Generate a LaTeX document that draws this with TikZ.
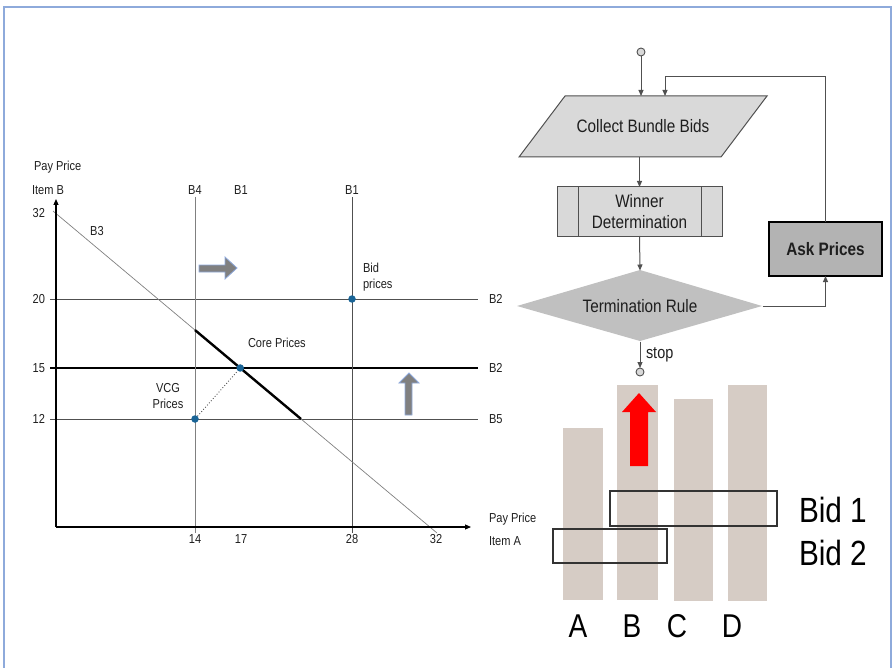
\documentclass[tikz,border=0pt]{standalone}
\usepackage{fontspec}
\setmainfont[FakeStretch=0.85]{Liberation Sans}
\usetikzlibrary{arrows.meta}

\definecolor{frameblue}{RGB}{142,170,219}
\definecolor{dotblue}{RGB}{25,100,150}
\definecolor{linegray}{RGB}{80,80,80}
\definecolor{boxgray}{RGB}{217,217,217}
\definecolor{diagray}{RGB}{192,192,192}
\definecolor{askgray}{RGB}{179,179,179}
\definecolor{bartan}{RGB}{214,204,197}
\definecolor{arrowgray}{RGB}{128,128,128}
\definecolor{arrowedge}{RGB}{143,170,220}
\definecolor{textdark}{RGB}{30,30,30}

\newcommand\chartfont{\fontsize{13}{16}\selectfont}
\newcommand\flowfont{\fontsize{18}{21}\selectfont}
\newcommand\bigfont{\fontsize{35}{40}\selectfont}
\newcommand\letterfont{\fontsize{33}{36}\selectfont}

\tikzset{
  every node/.style={inner sep=0pt, outer sep=0pt, text=textdark},
  lbl/.style={font=\chartfont},
  gridline/.style={draw=linegray, line width=0.9pt},
  axisline/.style={draw=black, line width=1.1pt, -{Triangle[length=6pt,width=5pt]}},
  pricedot/.style={circle, fill=dotblue, minimum size=7.5pt},
  hintarrow/.style={fill=arrowgray, draw=arrowedge, line width=0.8pt},
  flow/.style={draw=linegray, line width=1pt, -{Triangle[length=6pt,width=5pt]}},
  terminal/.style={circle, draw=linegray, fill=boxgray, line width=0.9pt, minimum size=8pt},
  bar/.style={fill=bartan},
  bidbox/.style={draw=black!80, line width=1.3pt},
}

\begin{document}
\begin{tikzpicture}[x=1pt,y=-1pt]
\useasboundingbox (0,0) rectangle (893,668);

% outer frame, open at the bottom
\draw[frameblue, line width=2pt] (4,668) -- (4,7) -- (891,7) -- (891,668);

% ---------------- price chart ----------------
\coordinate (h20a) at (50,299);  \coordinate (h20b) at (478,299);
\coordinate (h15a) at (50,368);  \coordinate (h15b) at (478,368);
\coordinate (h12a) at (50,419);  \coordinate (h12b) at (478,419);
\coordinate (v14a) at (195,197); \coordinate (v14b) at (195,533);
\coordinate (v28a) at (352,197); \coordinate (v28b) at (352,533);
\coordinate (d1) at (53,211);    \coordinate (d2) at (437,533);

\draw[gridline] (h20a) -- (h20b);
\draw[draw=black, line width=1.4pt] (h15a) -- (h15b);
\draw[gridline] (h12a) -- (h12b);
\draw[draw=gray, line width=1pt] (v14a) -- (v14b);
\draw[gridline] (v28a) -- (v28b);
\draw[draw=gray, line width=0.7pt] (d1) -- (d2);

% core segment of B3
\draw[black, line width=2.4pt]
  (intersection of d1--d2 and v14a--v14b) -- (intersection of d1--d2 and h12a--h12b);

% axes
\coordinate (origin) at (56,527);
\draw[axisline] (origin) -- (56,199);
\draw[axisline] (origin) -- (471,527);

% price points
\node[pricedot] (vcg) at (195,419) {};
\node[pricedot] (core) at (intersection of d1--d2 and h15a--h15b) {};
\node[pricedot] (bid) at (352,299) {};
\draw[linegray, line width=0.9pt, dotted] (vcg) -- (core);

% direction hints
\filldraw[hintarrow] (199,265) -- (225,265) -- (225,257) -- (237,268)
  -- (225,279) -- (225,272) -- (199,272) -- cycle;
\filldraw[hintarrow] (405,415) -- (405,383) -- (399,383) -- (409,373)
  -- (419,383) -- (412,383) -- (412,415) -- cycle;

% chart labels
\node[lbl, anchor=west] (ylab1) at (34,167) {Pay Price};
\node[lbl, anchor=west] (ylab2) at (32,190) {Item B};
\node[lbl] (tB4) at (195,190) {B4};
\node[lbl] (tB1a) at (241,190) {B1};
\node[lbl] (tB1b) at (352,190) {B1};
\node[lbl, anchor=east] (y32) at (45,213) {32};
\node[lbl, anchor=east] (y20) at (45,299) {20};
\node[lbl, anchor=east] (y15) at (45,368) {15};
\node[lbl, anchor=east] (y12) at (45,419) {12};
\node[lbl] (tB3) at (97,231) {B3};
\node[lbl, anchor=west, align=left] (bidlbl) at (363,277) {Bid\\prices};
\node[lbl, anchor=west] (corelbl) at (248,343) {Core Prices};
\node[lbl, align=center] (vcglbl) at (168,396) {VCG\\Prices};
\node[lbl, anchor=west] (rB2a) at (489,299) {B2};
\node[lbl, anchor=west] (rB2b) at (489,368) {B2};
\node[lbl, anchor=west] (rB5) at (489,419) {B5};
\node[lbl] (x14) at (195,539) {14};
\node[lbl] (x17) at (241,539) {17};
\node[lbl] (x28) at (352,539) {28};
\node[lbl] (x32) at (436,539) {32};
\node[lbl, anchor=west] (xlab1) at (489,519) {Pay Price};
\node[lbl, anchor=west] (xlab2) at (489,541) {Item A};

% ---------------- auction flow ----------------
\node[terminal] (start) at (641,52) {};

\filldraw[fill=boxgray, draw=linegray, line width=1pt]
  (565,96) -- (767,96) -- (721,157) -- (519,157) -- cycle;
\node[font=\flowfont, minimum width=200pt, minimum height=61pt] (collect) at (643,126.5)
  {Collect Bundle Bids};

\node[draw=linegray, fill=boxgray, line width=1pt, minimum width=165pt, minimum height=49pt,
      align=center, font=\flowfont] (wd) at (639.5,211.5) {Winner\\Determination};
\draw[linegray, line width=1pt] ([xshift=21pt]wd.north west) -- ([xshift=21pt]wd.south west);
\draw[linegray, line width=1pt] ([xshift=-21pt]wd.north east) -- ([xshift=-21pt]wd.south east);

\fill[diagray] (517,306) -- (640,270) -- (762,306) -- (640,341) -- cycle;
\node[font=\flowfont, minimum width=245pt, minimum height=71pt] (term) at (640,306)
  {Termination Rule};

\node[draw=black, line width=1.2pt, fill=askgray, minimum width=113pt, minimum height=54pt,
      font=\flowfont\bfseries] (ask) at (825.5,249) {Ask Prices};

\node[terminal] (endc) at (640,372) {};

\coordinate (fbturn) at (665,77);
\draw[flow] (start) -- (start |- collect.north);
\draw[flow] (ask.north) |- (fbturn) -- (fbturn |- collect.north);
\draw[flow] (wd.north |- collect.south) -- (wd.north);
\draw[flow] (wd.south) -- (term.north);
\draw[flow] (term.east) -| (ask.south);
\draw[flow] (term.south) -- (endc.north)
  node[midway, anchor=west, xshift=6pt, font=\fontsize{17}{20}\selectfont] (stoplbl) {stop};

% ---------------- item bars and bundle bids ----------------
\fill[bar] (563,428) rectangle (603,600);
\fill[bar] (617,385) rectangle (658,600);
\fill[bar] (674,399) rectangle (713,601);
\fill[bar] (728,385) rectangle (767,601);

\fill[red] (630,466) -- (630,412) -- (622,412) -- (639,393) -- (656,412)
  -- (648,412) -- (648,466) -- cycle;

\draw[bidbox] (610,491) rectangle (777,526);
\draw[bidbox] (553,529) rectangle (667,563);

\node[font=\bigfont, anchor=west, text=black] (bid1) at (799,510) {Bid 1};
\node[font=\bigfont, anchor=west, text=black] (bid2) at (799,553) {Bid 2};

\node[font=\letterfont, text=black] (itA) at (578,626) {A};
\node[font=\letterfont, text=black] (itB) at (632,626) {B};
\node[font=\letterfont, text=black] (itC) at (677,626) {C};
\node[font=\letterfont, text=black] (itD) at (732,626) {D};
\end{tikzpicture}
\end{document}
